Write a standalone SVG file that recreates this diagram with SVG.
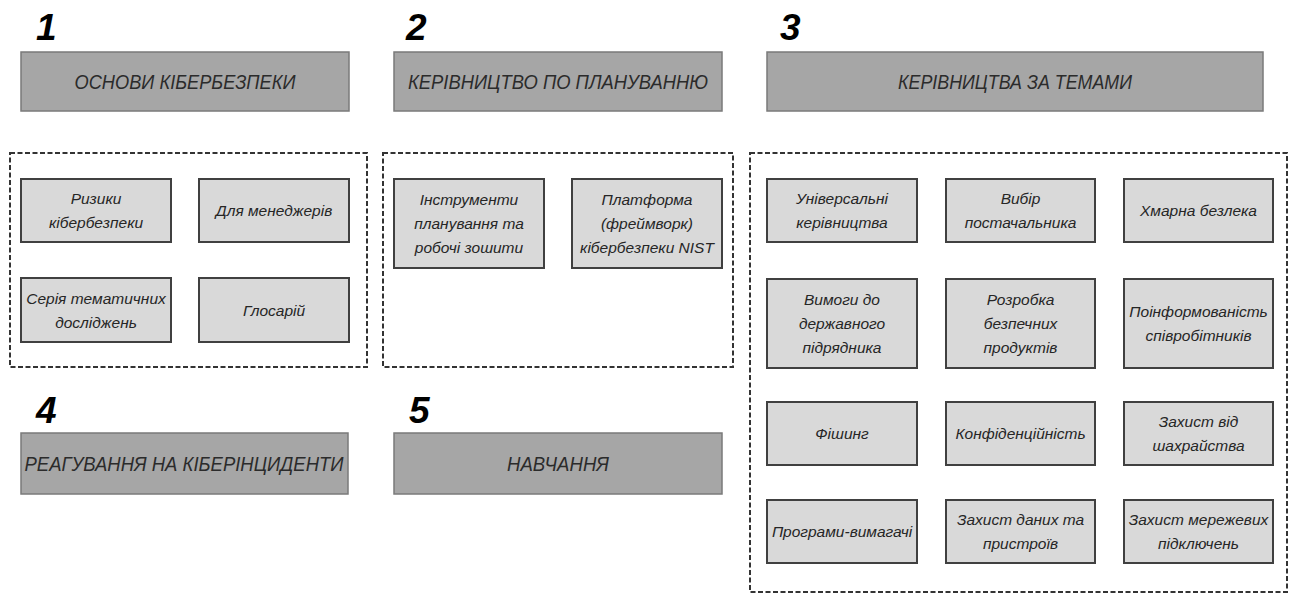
<svg xmlns="http://www.w3.org/2000/svg" width="1294" height="594" viewBox="0 0 1294 594">
<style>
.num{font-family:"Liberation Sans",Arial,sans-serif;font-weight:bold;font-style:italic;font-size:37px;fill:#000}
.hdr{fill:#a6a6a6;stroke:#7a7a7a;stroke-width:1.5}
.ht{font-family:"Liberation Sans",Arial,sans-serif;font-style:italic;font-size:21px;fill:#2b2b2b;text-anchor:middle}
.grp{fill:none;stroke:#333;stroke-width:2;stroke-dasharray:5 2.5}
.box{fill:#d9d9d9;stroke:#404040;stroke-width:2}
.bt{font-family:"Liberation Sans",Arial,sans-serif;font-style:italic;font-size:15.5px;fill:#262626;text-anchor:middle}
</style>
<rect width="1294" height="594" fill="#fff"/>

<g id="section1">
<text class="num" x="36" y="40">1</text>
<rect class="hdr" x="21" y="52" width="328" height="59"/>
<text class="ht" x="185" y="89" textLength="221" lengthAdjust="spacingAndGlyphs">ОСНОВИ КІБЕРБЕЗПЕКИ</text>
</g>
<g id="section2">
<text class="num" x="406" y="40">2</text>
<rect class="hdr" x="394" y="52" width="328" height="59"/>
<text class="ht" x="558" y="89" textLength="300" lengthAdjust="spacingAndGlyphs">КЕРІВНИЦТВО ПО ПЛАНУВАННЮ</text>
</g>
<g id="section3">
<text class="num" x="780" y="40">3</text>
<rect class="hdr" x="767" y="52" width="496" height="59"/>
<text class="ht" x="1015" y="89" textLength="234" lengthAdjust="spacingAndGlyphs">КЕРІВНИЦТВА ЗА ТЕМАМИ</text>
</g>
<g id="section4">
<text class="num" x="36" y="423">4</text>
<rect class="hdr" x="21" y="433" width="327" height="61"/>
<text class="ht" x="184" y="471" textLength="319" lengthAdjust="spacingAndGlyphs">РЕАГУВАННЯ НА КІБЕРІНЦИДЕНТИ</text>
</g>
<g id="section5">
<text class="num" x="409" y="423">5</text>
<rect class="hdr" x="394" y="433" width="328" height="61"/>
<text class="ht" x="558" y="471" textLength="102" lengthAdjust="spacingAndGlyphs">НАВЧАННЯ</text>
</g>

<g id="group1">
<rect class="grp" x="10" y="153" width="357" height="214"/>
</g>
<g id="group2">
<rect class="grp" x="383" y="153" width="350" height="214"/>
</g>
<g id="group3">
<rect class="grp" x="750" y="153" width="537" height="439"/>
</g>

<g id="n-ryzyky">
<rect class="box" x="21" y="179" width="150" height="63"/>
<text class="bt" x="96" y="204">Ризики</text>
<text class="bt" x="96" y="228">кібербезпеки</text>
</g>
<g id="n-managers">
<rect class="box" x="199" y="179" width="150" height="63"/>
<text class="bt" x="274" y="216">Для менеджерів</text>
</g>
<g id="n-series">
<rect class="box" x="21" y="278" width="150" height="64"/>
<text class="bt" x="96" y="304">Серія тематичних</text>
<text class="bt" x="96" y="328">досліджень</text>
</g>
<g id="n-glossary">
<rect class="box" x="199" y="278" width="150" height="64"/>
<text class="bt" x="274" y="316">Глосарій</text>
</g>

<g id="n-tools">
<rect class="box" x="394" y="179" width="150" height="89"/>
<text class="bt" x="469" y="205">Інструменти</text>
<text class="bt" x="469" y="229">планування та</text>
<text class="bt" x="469" y="253">робочі зошити</text>
</g>
<g id="n-nist">
<rect class="box" x="572" y="179" width="150" height="89"/>
<text class="bt" x="647" y="205">Платформа</text>
<text class="bt" x="647" y="229">(фреймворк)</text>
<text class="bt" x="647" y="253">кібербезпеки NIST</text>
</g>

<g id="n-universal">
<rect class="box" x="767" y="179" width="150" height="63"/>
<text class="bt" x="842" y="204">Універсальні</text>
<text class="bt" x="842" y="228">керівництва</text>
</g>
<g id="n-vendor">
<rect class="box" x="946" y="179" width="149" height="63"/>
<text class="bt" x="1020.5" y="204">Вибір</text>
<text class="bt" x="1020.5" y="228">постачальника</text>
</g>
<g id="n-cloud">
<rect class="box" x="1124" y="179" width="149" height="63"/>
<text class="bt" x="1198.5" y="216">Хмарна безлека</text>
</g>

<g id="n-gov">
<rect class="box" x="767" y="279" width="150" height="89"/>
<text class="bt" x="842" y="305">Вимоги до</text>
<text class="bt" x="842" y="329">державного</text>
<text class="bt" x="842" y="353">підрядника</text>
</g>
<g id="n-secure">
<rect class="box" x="946" y="279" width="149" height="89"/>
<text class="bt" x="1020.5" y="305">Розробка</text>
<text class="bt" x="1020.5" y="329">безпечних</text>
<text class="bt" x="1020.5" y="353">продуктів</text>
</g>
<g id="n-awareness">
<rect class="box" x="1124" y="279" width="149" height="89"/>
<text class="bt" x="1198.5" y="317">Поінформованість</text>
<text class="bt" x="1198.5" y="341">співробітників</text>
</g>

<g id="n-phishing">
<rect class="box" x="767" y="402" width="150" height="63"/>
<text class="bt" x="842" y="439">Фішинг</text>
</g>
<g id="n-privacy">
<rect class="box" x="946" y="402" width="149" height="63"/>
<text class="bt" x="1020.5" y="439">Конфіденційність</text>
</g>
<g id="n-fraud">
<rect class="box" x="1124" y="402" width="149" height="63"/>
<text class="bt" x="1198.5" y="427">Захист від</text>
<text class="bt" x="1198.5" y="451">шахрайства</text>
</g>

<g id="n-ransomware">
<rect class="box" x="767" y="500" width="150" height="63"/>
<text class="bt" x="842" y="537">Програми-вимагачі</text>
</g>
<g id="n-data">
<rect class="box" x="946" y="500" width="149" height="63"/>
<text class="bt" x="1020.5" y="525">Захист даних та</text>
<text class="bt" x="1020.5" y="549">пристроїв</text>
</g>
<g id="n-network">
<rect class="box" x="1124" y="500" width="149" height="63"/>
<text class="bt" x="1198.5" y="525">Захист мережевих</text>
<text class="bt" x="1198.5" y="549">підключень</text>
</g>

<g id="connectors"/>
</svg>
